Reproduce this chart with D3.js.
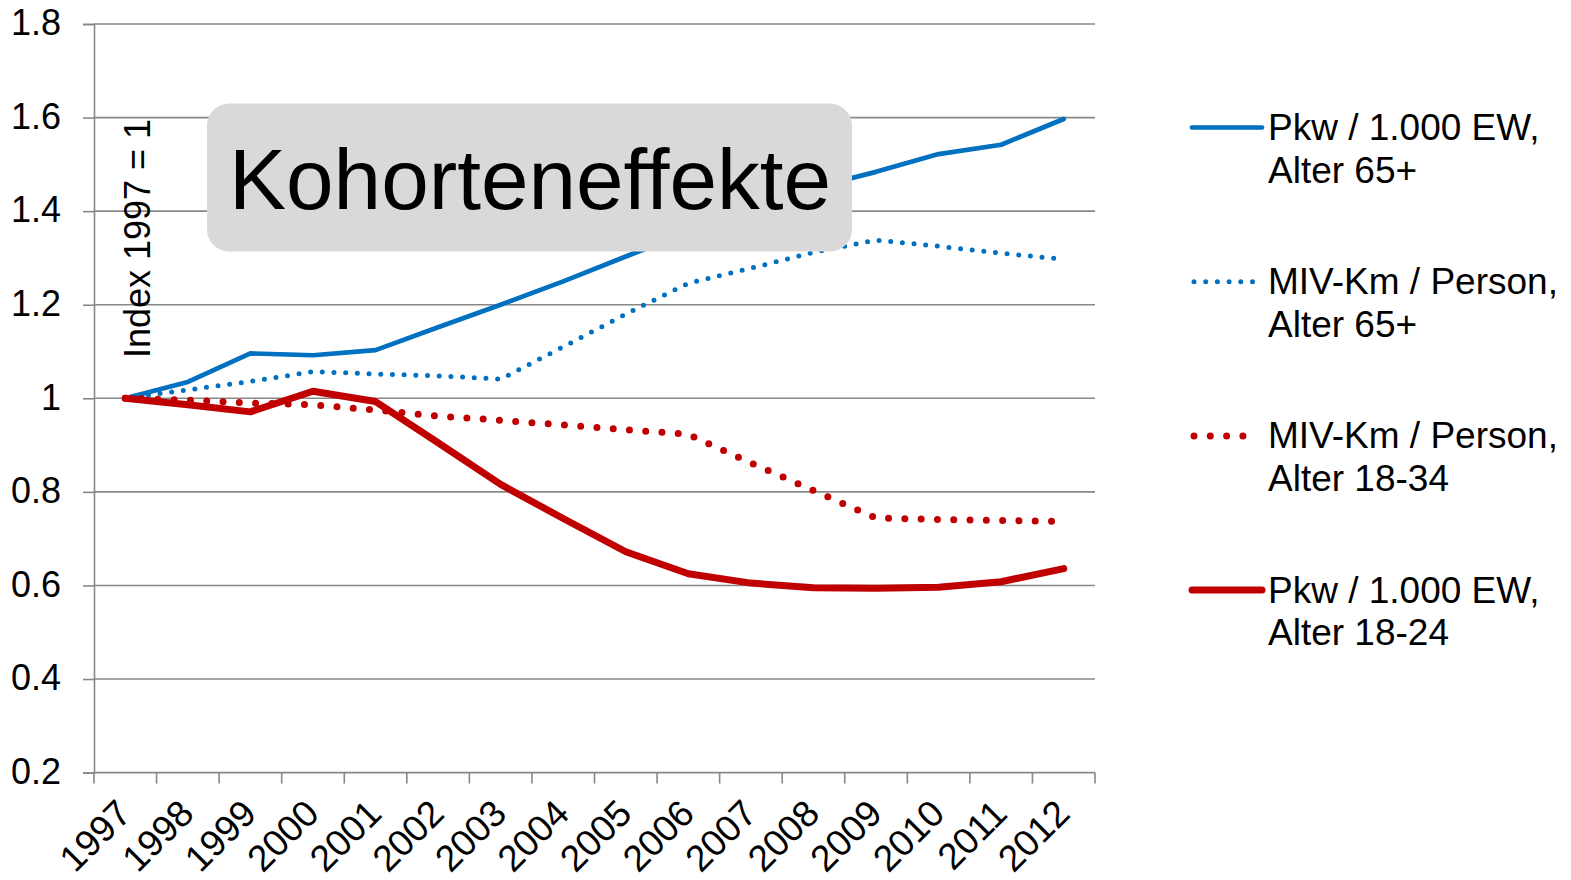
<!doctype html>
<html>
<head>
<meta charset="utf-8">
<title>Kohorteneffekte</title>
<script src="https://cdnjs.cloudflare.com/ajax/libs/d3/7.8.5/d3.min.js"></script>
<style>
  body { margin: 0; background: #fff; }
  svg { display: block; font-family: "Liberation Sans", Arial, sans-serif; }
</style>
</head>
<body>
<svg id="chart" width="1571" height="880"></svg>
<script>
// values (Index 1997 = 1)
var years = ["1997","1998","1999","2000","2001","2002","2003","2004","2005","2006","2007","2008","2009","2010","2011","2012"];
var pkw65   = [1.000, 1.035, 1.096, 1.092, 1.103, 1.152, 1.200, 1.250, 1.303, 1.355, 1.405, 1.450, 1.484, 1.522, 1.542, 1.597];
var miv65   = [1.000, 1.018, 1.036, 1.057, 1.052, 1.048, 1.041, 1.110, 1.180, 1.246, 1.278, 1.312, 1.338, 1.325, 1.310, 1.297];
var miv1834 = [1.000, 0.996, 0.990, 0.986, 0.975, 0.962, 0.953, 0.943, 0.933, 0.923, 0.862, 0.803, 0.744, 0.741, 0.739, 0.737];
var pkw1824 = [1.000, 0.986, 0.971, 1.015, 0.993, 0.905, 0.816, 0.743, 0.672, 0.625, 0.605, 0.595, 0.594, 0.596, 0.608, 0.636];
var yTicks = [0.2, 0.4, 0.6, 0.8, 1, 1.2, 1.4, 1.6, 1.8];
var seriesNames = [["Pkw / 1.000 EW,", "Alter 65+"], ["MIV-Km / Person,", "Alter 65+"],
                   ["MIV-Km / Person,", "Alter 18-34"], ["Pkw / 1.000 EW,", "Alter 18-24"]];

var blue = "#0070C0", red = "#C00000", grid = "#888888";
var series = [
  {name: seriesNames[0], values: pkw65,   color: blue, width: 4.7, dash: null},
  {name: seriesNames[1], values: miv65,   color: blue, width: 5,   dash: "0,11.7"},
  {name: seriesNames[2], values: miv1834, color: red,  width: 7,   dash: "0,16.3"},
  {name: seriesNames[3], values: pkw1824, color: red,  width: 7,   dash: null}
];

var svg = d3.select("#chart");
var plotL = 94, plotR = 1095, plotT = 24, plotB = 772.6;

var x = d3.scaleBand().domain(years).range([plotL, plotR]);
var y = d3.scaleLinear().domain([0.2, 1.8]).range([plotB, plotT]);

// gridlines
svg.append("g").selectAll("line")
  .data(yTicks.slice(1))
  .enter().append("line")
  .attr("x1", plotL).attr("x2", plotR)
  .attr("y1", d => y(d)).attr("y2", d => y(d))
  .attr("stroke", grid).attr("stroke-width", 1.6);

// y axis
var yAxis = svg.append("g")
  .attr("transform", "translate(" + plotL + ",0)")
  .call(d3.axisLeft(y).tickValues(yTicks).tickSize(11).tickFormat(d3.format("")));
yAxis.select(".domain").attr("stroke", grid).attr("stroke-width", 1.6);
yAxis.selectAll(".tick line").attr("stroke", grid).attr("stroke-width", 1.6);
yAxis.selectAll(".tick text")
  .attr("x", -33).attr("dy", "10.8px")
  .attr("font-size", "36px").attr("font-family", "Liberation Sans, Arial, sans-serif")
  .attr("fill", "#000").attr("text-anchor", "end");

// x axis: ticks between categories
var xg = svg.append("g").attr("transform", "translate(0," + plotB + ")");
xg.append("line").attr("x1", plotL).attr("x2", plotR)
  .attr("stroke", grid).attr("stroke-width", 1.6);
var bounds = years.map(d => x(d)).concat([plotR]);
xg.selectAll(".xt").data(bounds).enter().append("line")
  .attr("class", "xt")
  .attr("x1", d => d).attr("x2", d => d)
  .attr("y1", 0).attr("y2", 11)
  .attr("stroke", grid).attr("stroke-width", 1.6);
xg.selectAll("text").data(years).enter().append("text")
  .attr("transform", d => "translate(" + (x(d) + x.bandwidth() / 2 + 8) + ",43) rotate(-45)")
  .attr("text-anchor", "end")
  .attr("font-size", "37px")
  .attr("fill", "#000")
  .text(d => d);

// y axis title
svg.append("text")
  .attr("transform", "translate(150,238.5) rotate(-90)")
  .attr("text-anchor", "middle")
  .attr("font-size", "36px")
  .attr("fill", "#000")
  .text("Index 1997 = 1");

// lines
var line = d3.line()
  .x((d, i) => x(years[i]) + x.bandwidth() / 2)
  .y(d => y(d));

svg.append("g").selectAll("path")
  .data(series)
  .enter().append("path")
  .attr("d", d => line(d.values))
  .attr("fill", "none")
  .attr("stroke", d => d.color)
  .attr("stroke-width", d => d.width)
  .attr("stroke-linecap", "round")
  .attr("stroke-linejoin", "round")
  .attr("stroke-dasharray", d => d.dash);

// title box
svg.append("rect")
  .attr("x", 207).attr("y", 103.5)
  .attr("width", 645).attr("height", 148)
  .attr("rx", 22).attr("ry", 22)
  .attr("fill", "#d9d9d9");
svg.append("text")
  .attr("x", 229).attr("y", 209)
  .attr("font-size", "85.5px")
  .attr("fill", "#000")
  .text("Kohorteneffekte");

// legend
var legend = svg.append("g").selectAll("g")
  .data(series)
  .enter().append("g")
  .attr("transform", (d, i) => "translate(1192," + (127.5 + i * 154.2) + ")");
legend.append("line")
  .attr("x1", d => d.dash ? 2 : 0).attr("x2", d => d.dash ? 67 : 70)
  .attr("stroke", d => d.color)
  .attr("stroke-width", d => d.width)
  .attr("stroke-linecap", "round")
  .attr("stroke-dasharray", d => d.dash);
legend.append("text")
  .attr("x", 76).attr("y", 12.5)
  .attr("font-size", "37px")
  .attr("fill", "#000")
  .text(d => d.name[0]);
legend.append("text")
  .attr("x", 76).attr("y", 55)
  .attr("font-size", "37px")
  .attr("fill", "#000")
  .text(d => d.name[1]);
</script>
</body>
</html>
